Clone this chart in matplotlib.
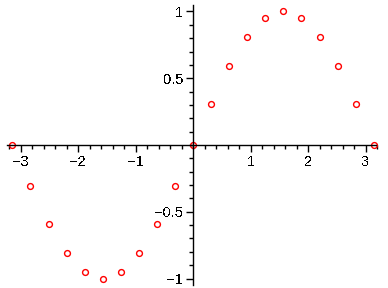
import numpy as np
import matplotlib
matplotlib.use('Agg')
import matplotlib.pyplot as plt
from matplotlib.ticker import MultipleLocator, FixedLocator

plt.rcParams['text.antialiased'] = False

# sin(x) sampled at k*pi/10
x_vals = [-3.1416, -2.8274, -2.5133, -2.1991, -1.8850, -1.5708, -1.2566, -0.9425,
          -0.6283, -0.3142, 0.0, 0.3142, 0.6283, 0.9425, 1.2566, 1.5708, 1.8850,
          2.1991, 2.5133, 2.8274, 3.1416]
y_vals = [0.0, -0.309, -0.588, -0.809, -0.951, -1.0, -0.951, -0.809, -0.588, -0.309,
          0.0, 0.309, 0.588, 0.809, 0.951, 1.0, 0.951, 0.809, 0.588, 0.309, 0.0]
x_ticks = [-3, -2, -1, 1, 2, 3]
x_labels = ['\u22123', '\u22122', '\u22121', '1', '2', '3']
y_ticks = [-1, -0.5, 0.5, 1]
y_labels = ['\u22121', '\u22120.5', '0.5', '1']

fig = plt.figure(figsize=(3.88, 2.88), dpi=100)
ax = fig.add_axes([0, 0, 1, 1])
ax.set_xlim(-3.357, 3.39)
ax.set_ylim(-1.071, 1.086)

ax.plot(x_vals, y_vals, linestyle='none', marker='o', markersize=4.2,
        markerfacecolor='none', markeredgecolor='red', markeredgewidth=1.0)

for s in ['top', 'right']:
    ax.spines[s].set_visible(False)
ax.spines['left'].set_position(('data', 0))
ax.spines['bottom'].set_position(('data', 0))
ax.spines['bottom'].set_bounds(-3.23, 3.19)
ax.spines['left'].set_bounds(-1.05, 1.05)
for s in ['left', 'bottom']:
    ax.spines[s].set_linewidth(1.0)
    ax.spines[s].set_color('black')

ax.xaxis.set_major_locator(FixedLocator(x_ticks))
ax.set_xticklabels(x_labels)
ax.yaxis.set_major_locator(FixedLocator(y_ticks))
ax.set_yticklabels(y_labels)
ax.xaxis.set_minor_locator(MultipleLocator(0.2))
ax.yaxis.set_minor_locator(MultipleLocator(0.1))
ax.tick_params(which='major', direction='out', length=5, width=1, labelsize=10.5, pad=2)
ax.tick_params(which='minor', direction='out', length=3, width=1)
for lab in ax.get_xticklabels() + ax.get_yticklabels():
    lab.set_family('Liberation Sans')

fig.savefig('out.png', dpi=100)
